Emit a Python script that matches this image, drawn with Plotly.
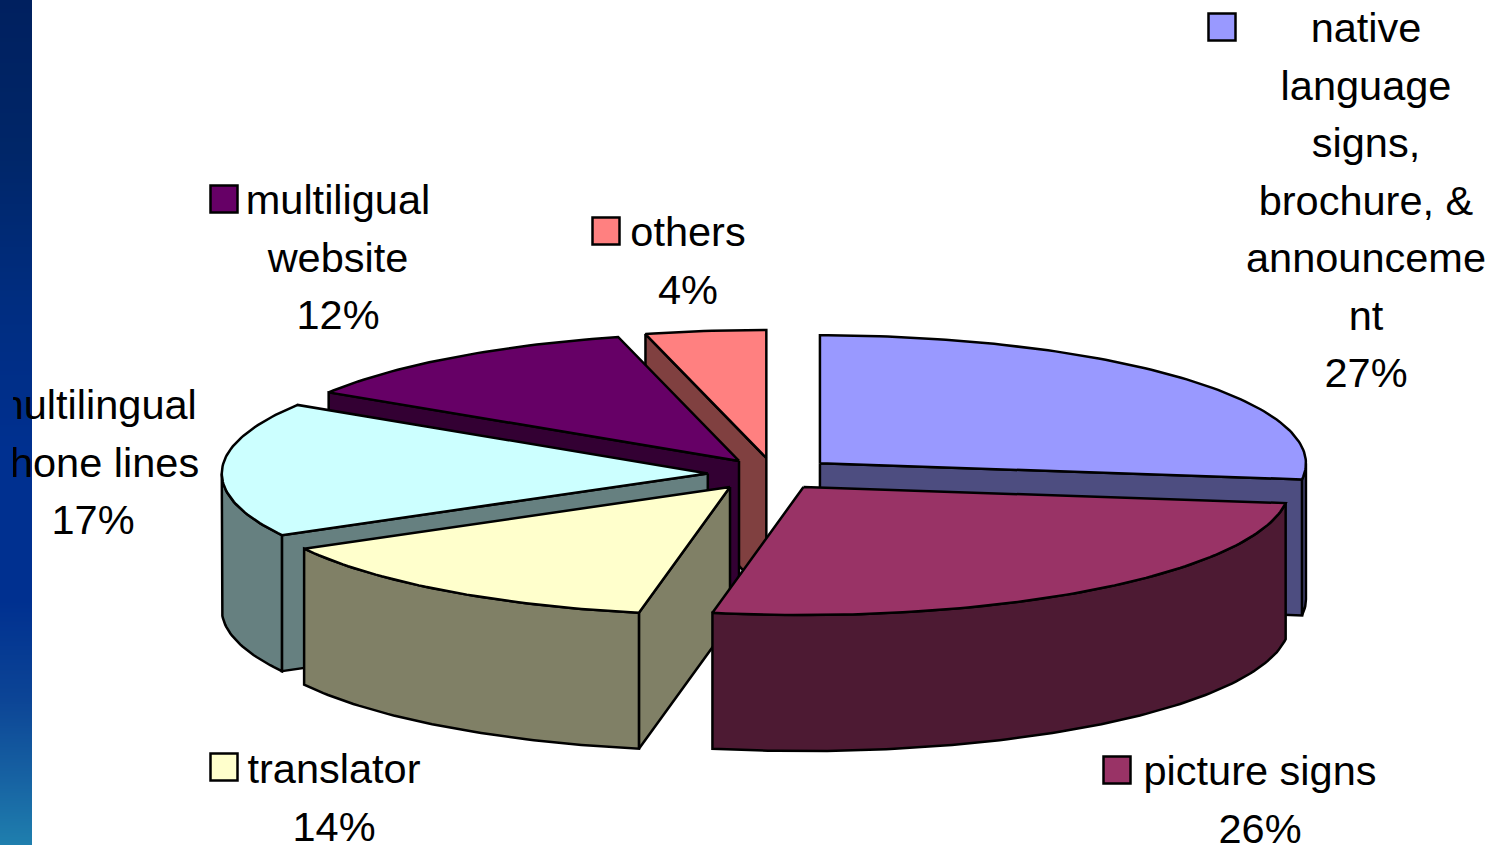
import numpy as np
import plotly.graph_objects as go

# udzialy w procentach, zgodnie z ruchem wskazowek od godziny 12
categories = ["native language signs, brochure, & announcement", "picture signs", "translator",
              "multilingual phone lines", "multiligual website", "others"]
values = [27, 26, 14, 17, 12, 4]
label_lines = [
    ["native", "language", "signs,", "brochure, &", "announceme", "nt", "27%"],
    ["picture signs", "26%"],
    ["translator", "14%"],
    ["multilingual", "phone lines", "17%"],
    ["multiligual", "website", "12%"],
    ["others", "4%"],
]

top_colors = ["#9999ff", "#993366", "#ffffcc", "#ccffff", "#660066", "#ff8080"]
side_colors = ["#4d4d80", "#4d1a33", "#808066", "#668080", "#330033", "#804040"]

# geometria (piksele)
CX, CY = 771, 474
RX, RY = 486, 128
DEPTH = 136
EXPLODE = 0.126
nudge_x = [3, -3.5, -5, -2, 4, 3]  # oryginal ma lekka perspektywe
draw_order = [5, 4, 0, 3, 2, 1]

label_x = [1366, 1260, 334, 93, 338, 688]
label_y = [32, 775, 773, 409, 204, 236]
line_step = 57.5
key_x = [1222, 1117, 224, 0, 224, 606]
key_y = [27, 770, 767, 0, 199, 231]

strip_y = [0, 150, 300, 450, 600, 700, 780, 845]
strip_colors = ["#00205f", "#002668", "#002d80", "#003090", "#003090", "#0c4596", "#1763a3", "#1f7fae"]


def rim(cx, cy, a):
    r = np.radians(a)
    return cx + RX * np.sin(r), cy - RY * np.cos(r)


def add_poly(fig, xs, ys, color):
    fig.add_trace(go.Scatter(x=xs, y=ys, mode="lines", fill="toself", fillcolor=color,
                             line=dict(color="black", width=2.5), hoverinfo="skip",
                             xaxis="x2", yaxis="y2", showlegend=False))


fig = go.Figure()

# pasek po lewej
rows = np.arange(0, 846)
fig.add_trace(go.Heatmap(x=[0, 32], y=rows, z=[[v] for v in rows], zmin=0, zmax=845,
                         colorscale=[[y / 845, c] for y, c in zip(strip_y, strip_colors)],
                         showscale=False, hoverinfo="skip"))

ends = np.cumsum(values) * 3.6
starts = ends - np.array(values) * 3.6

for i in draw_order:
    a0, a1 = starts[i], ends[i]
    mid = np.radians((a0 + a1) / 2)
    cx = CX + EXPLODE * RX * np.sin(mid) + nudge_x[i]
    cy = CY - EXPLODE * RY * np.cos(mid)
    angles = np.append(np.arange(a0, a1, 1.0), a1)
    xs, ys = rim(cx, cy, angles)

    # sciany przekroju, tylko te zwrocone do widza
    for a, facing in ((a0, np.sin(np.radians(a0)) < -1e-9), (a1, np.sin(np.radians(a1)) > 1e-9)):
        if facing:
            x1, y1 = rim(cx, cy, a)
            add_poly(fig, [cx, x1, x1, cx, cx], [cy, y1, y1 + DEPTH, cy + DEPTH, cy], side_colors[i])

    # zewnetrzna sciana, tylko widoczna polowa
    lo, hi = max(a0, 90), min(a1, 270)
    if lo < hi:
        front = np.append(np.arange(lo, hi, 1.0), hi)
        fx, fy = rim(cx, cy, front)
        add_poly(fig, list(fx) + list(fx[::-1]) + [fx[0]], list(fy) + list(fy[::-1] + DEPTH) + [fy[0]],
                 side_colors[i])

    add_poly(fig, [cx] + list(xs) + [cx], [cy] + list(ys) + [cy], top_colors[i])

# etykiety
tx, ty, tt = [], [], []
for i, lines in enumerate(label_lines):
    for j, line in enumerate(lines):
        tx.append(label_x[i])
        ty.append(label_y[i] + j * line_step)
        tt.append(line)
fig.add_trace(go.Scatter(x=tx, y=ty, text=tt, mode="text", textposition="middle center",
                         textfont=dict(family="Liberation Sans", size=41.5, color="black"),
                         hoverinfo="skip", xaxis="x2", yaxis="y2", showlegend=False))

# kwadraty legendy
shown = [i for i in range(len(values)) if key_x[i] > 0]
fig.add_trace(go.Scatter(x=[key_x[i] for i in shown], y=[key_y[i] for i in shown], mode="markers",
                         marker=dict(symbol="square", size=27, color=[top_colors[i] for i in shown],
                                     line=dict(color="black", width=2.5)),
                         hoverinfo="skip", xaxis="x2", yaxis="y2", showlegend=False))

axis = dict(visible=False, showgrid=False, zeroline=False)
fig.update_layout(
    width=1493, height=845,
    margin=dict(l=0, r=0, t=0, b=0),
    paper_bgcolor="white", plot_bgcolor="rgba(0,0,0,0)",
    showlegend=False,
    xaxis=dict(range=[0, 1493], domain=[0, 1], anchor="y", **axis),
    yaxis=dict(range=[845, 0], domain=[0, 1], anchor="x", **axis),
    xaxis2=dict(range=[13, 1493], domain=[13 / 1493, 1], anchor="y2", **axis),
    yaxis2=dict(range=[845, 0], domain=[0, 1], anchor="x2", **axis),
)

fig.write_html("out.html", config=dict(displayModeBar=False),
               post_script="document.body.style.margin='0';document.body.style.overflow='hidden';")
